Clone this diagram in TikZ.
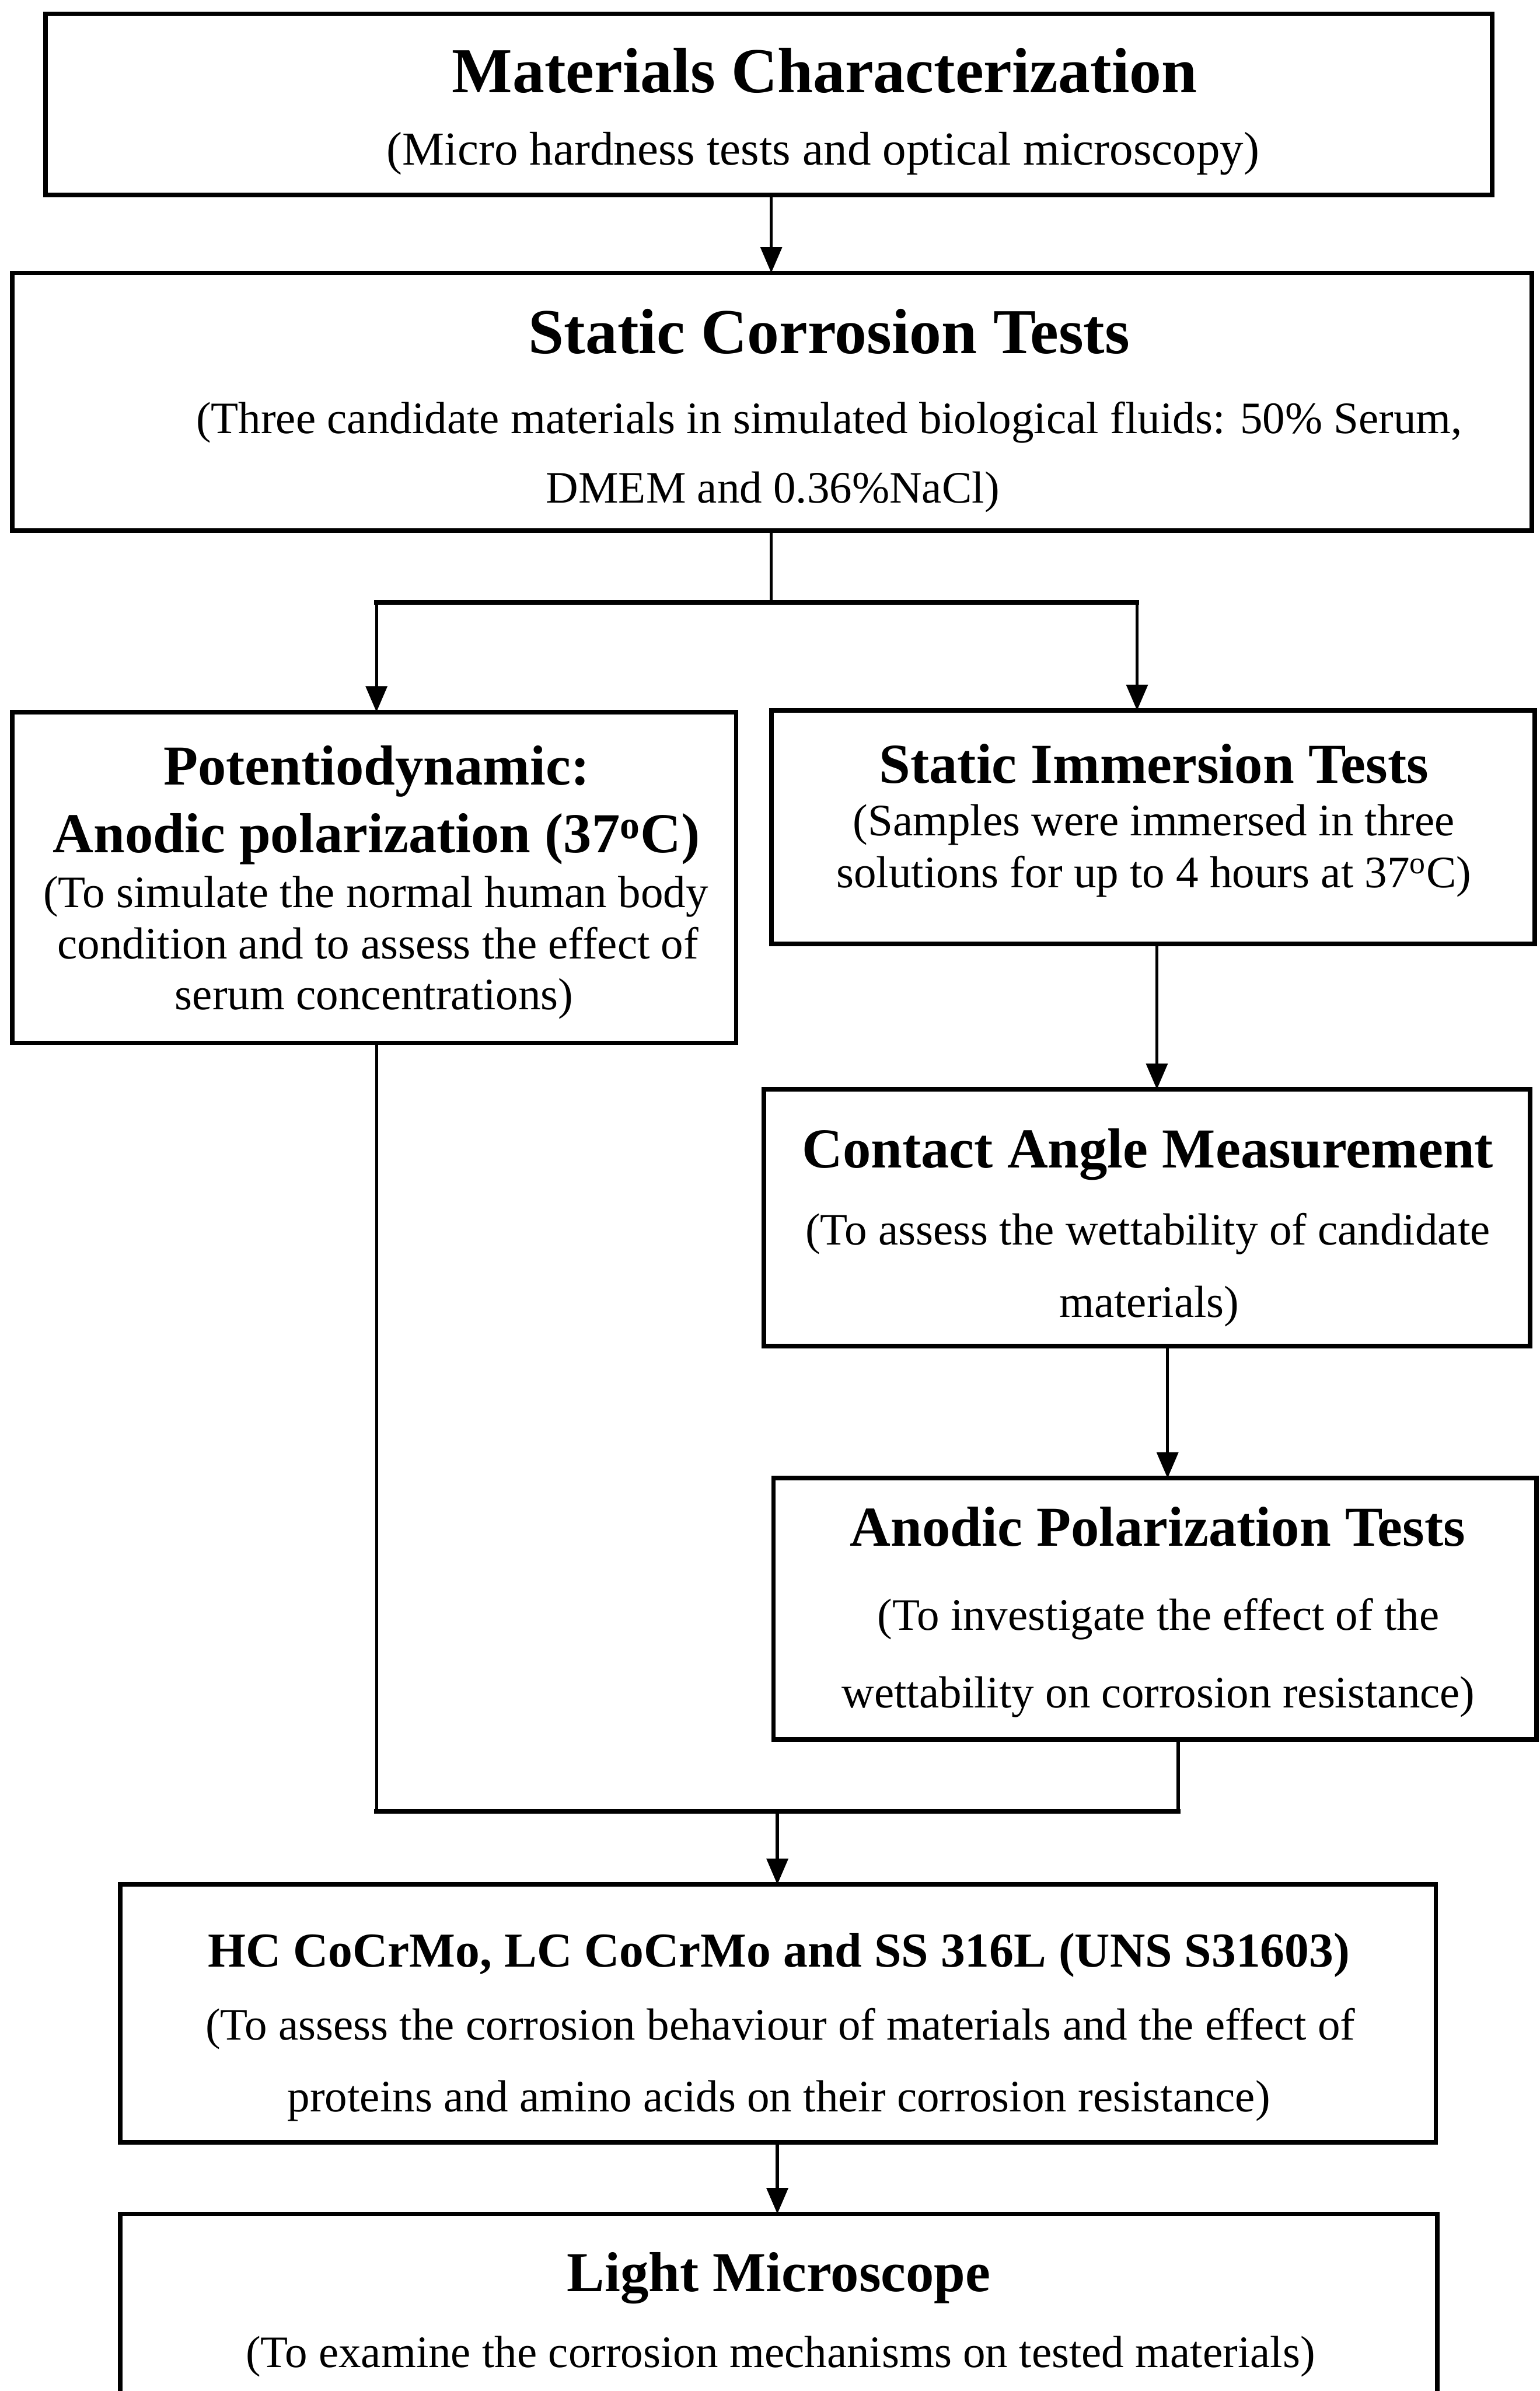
\documentclass[tikz,border=0pt]{standalone}
\usepackage{fontspec}
\setmainfont{Liberation Serif}
\usetikzlibrary{arrows.meta,fit}
\begin{document}
\begin{tikzpicture}[x=1pt,y=-1pt,
  box/.style={draw, line width=3pt, rectangle, inner sep=0pt, outer sep=0pt},
  ln/.style={line width=2pt},
  hl/.style={line width=3pt, line cap=rect},
  arr/.style={line width=2pt, -{Triangle[length=17pt,width=14pt]}},
  tbig/.style={font=\bfseries\fontsize{42}{48}\selectfont, anchor=base, inner sep=0pt},
  tmid/.style={font=\bfseries\fontsize{37}{42}\selectfont, anchor=base, inner sep=0pt},
  tsmall/.style={font=\bfseries\fontsize{32}{38}\selectfont, anchor=base, inner sep=0pt},
  sbig/.style={font=\fontsize{31}{36}\selectfont, anchor=base, inner sep=0pt},
  snorm/.style={font=\fontsize{29.5}{34}\selectfont, anchor=base, inner sep=0pt}]
\useasboundingbox (0,0) rectangle (1010,1568.2);
\clip (0,0) rectangle (1010,1568.2);
\fill[white] (0,0) rectangle (1010,1568.2);

% boxes
\node[box, fit={(30,9) (979,128)}] (b1) {};
\node[box, fit={(8,179) (1005,348)}] (b2) {};
\node[box, fit={(8,467) (483,684)}] (b3) {};
\node[box, fit={(506,466) (1007,619)}] (b4) {};
\node[box, fit={(501,714.5) (1004,883)}] (b5) {};
\node[box, fit={(507.5,969.5) (1008,1141)}] (b6) {};
\node[box, fit={(79,1236) (942,1405)}] (b7) {};
\node[box, fit={(79,1452) (943,1600)}] (b8) {};

% texts
\node[tbig] (t1) at (541,60.7) {Materials Characterization};
\node[sbig] (s1) at (540,108.3) {(Micro hardness tests and optical microscopy)};

\node[tbig] (t2) at (544,232) {Static Corrosion Tests};
\node[snorm] (s2a) at (544,284.4) {(Three candidate materials in simulated biological fluids: 50\% Serum,};
\node[snorm] (s2b) at (507,329.7) {DMEM and 0.36\%NaCl)};

\node[tmid] (t3a) at (247,514.6) {Potentiodynamic:};
\node[tmid] (t3b) at (247,559) {Anodic polarization (37\textsuperscript{o}C)};
\node[snorm] (s3a) at (246.5,595) {(To simulate the normal human body};
\node[snorm] (s3b) at (248,629) {condition and to assess the effect of};
\node[snorm] (s3c) at (245.5,662) {serum concentrations)};

\node[tmid] (t4) at (757,513.6) {Static Immersion Tests};
\node[snorm] (s4a) at (757,548) {(Samples were immersed in three};
\node[snorm] (s4b) at (757,582) {solutions for up to 4 hours at 37\textsuperscript{o}C)};

\node[tmid] (t5) at (753,765.8) {Contact Angle Measurement};
\node[snorm] (s5a) at (753,816.5) {(To assess the wettability of candidate};
\node[snorm] (s5b) at (754,864) {materials)};

\node[tmid] (t6) at (759.5,1014) {Anodic Polarization Tests};
\node[snorm] (s6a) at (760,1069) {(To investigate the effect of the};
\node[snorm] (s6b) at (760,1120) {wettability on corrosion resistance)};

\node[tsmall] (t7) at (511,1290) {HC CoCrMo, LC CoCrMo and SS 316L (UNS S31603)};
\node[snorm] (s7a) at (512,1338) {(To assess the corrosion behaviour of materials and the effect of};
\node[snorm] (s7b) at (511,1385) {proteins and amino acids on their corrosion resistance)};

\node[tmid] (t8) at (511,1503) {Light Microscope};
\node[snorm] (s8) at (512,1552.5) {(To examine the corrosion mechanisms on tested materials)};

% junction coordinates
\coordinate (j1) at (506,395);
\coordinate (j2) at (247,395);
\coordinate (j3) at (746,395);
\coordinate (j4) at (247,1188);
\coordinate (j5) at (773,1188);
\coordinate (j6) at (510,1188);

% connectors
\draw[arr] (b1.south -| j1) -- (b2.north -| j1);
\draw[ln] (j1 |- b2.south) -- (j1);
\draw[hl] (j2) -- (j3);
\draw[arr] (j2) -- (j2 |- b3.north);
\draw[arr] (j3) -- (j3 |- b4.north);
\draw[arr] ([xshift=2.5pt]b4.south) -- ([xshift=2.5pt]b4.south |- b5.north);
\draw[arr] ([xshift=13.5pt]b5.south) -- ([xshift=13.5pt]b5.south |- b6.north);
\draw[ln] (j4 |- b3.south) -- (j4);
\draw[ln] (j5 |- b6.south) -- (j5);
\draw[hl] (j4) -- (j5);
\draw[arr] (j6) -- (j6 |- b7.north);
\draw[arr] (b7.south -| j6) -- (b8.north -| j6);
\end{tikzpicture}
\end{document}
